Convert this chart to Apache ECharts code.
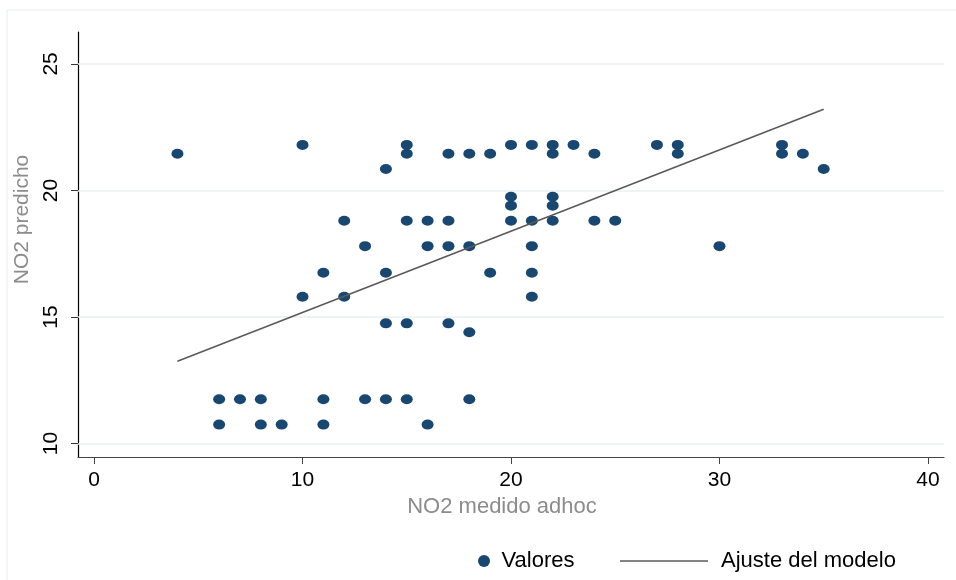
<!DOCTYPE html>
<html>
<head>
<meta charset="utf-8">
<script src="https://cdn.jsdelivr.net/npm/echarts@6/dist/echarts.min.js"></script>
<style>
  html, body { margin: 0; padding: 0; background: #fff; }
  #chart-container { width: 956px; height: 580px; }
</style>
</head>
<body>
<div id="chart-container"></div>
<script>
var dom = document.getElementById("chart-container");
var myChart = echarts.init(dom, null, { renderer: "canvas" });

// observed values (x) and model predictions (y)
var medido = [
  10, 15, 20, 21, 22, 23, 27, 28, 33,
  4, 15, 17, 18, 19, 22, 24, 28, 33, 34,
  14, 35,
  20, 22,
  20, 22,
  12, 15, 16, 17, 20, 21, 22, 24, 25,
  13, 16, 17, 18, 21, 30,
  11, 14, 19, 21,
  10, 12, 21,
  14, 15, 17,
  18,
  6, 7, 8, 11, 13, 14, 15, 18,
  6, 8, 9, 11, 16
];
var predicho = [
  21.8, 21.8, 21.8, 21.8, 21.8, 21.8, 21.8, 21.8, 21.8,
  21.45, 21.45, 21.45, 21.45, 21.45, 21.45, 21.45, 21.45, 21.45, 21.45,
  20.85, 20.85,
  19.75, 19.75,
  19.4, 19.4,
  18.8, 18.8, 18.8, 18.8, 18.8, 18.8, 18.8, 18.8, 18.8,
  17.8, 17.8, 17.8, 17.8, 17.8, 17.8,
  16.75, 16.75, 16.75, 16.75,
  15.8, 15.8, 15.8,
  14.75, 14.75, 14.75,
  14.4,
  11.75, 11.75, 11.75, 11.75, 11.75, 11.75, 11.75, 11.75,
  10.75, 10.75, 10.75, 10.75, 10.75
];

// fitted line end points
var ajusteX = [4, 35];
var ajusteY = [13.25, 23.21];

var xTicks = [0, 10, 20, 30, 40];
var yTicks = [10, 15, 20, 25];

var puntos = medido.map(function (x, i) { return [x, predicho[i]]; });
var linea = ajusteX.map(function (x, i) { return [x, ajusteY[i]]; });

var fontFam = "Liberation Sans, Arial, sans-serif";

var option = {
  animation: false,
  backgroundColor: "#fff",
  graphic: [
    {
      type: "rect",
      shape: { x: 7, y: 10, width: 960, height: 580 },
      style: { fill: "none", stroke: "#e6eef0", lineWidth: 1 },
      silent: true,
    },
  ],
  grid: { left: 78, right: 12, top: 32, bottom: 123 },
  legend: [
    {
      data: ["Valores"],
      left: 473,
      top: 545,
      itemWidth: 13,
      itemHeight: 12,
      textStyle: { fontFamily: fontFam, fontSize: 22, color: "#000", padding: [0, 0, 0, 6] },
    },
    {
      data: [{ name: "Ajuste del modelo", icon: "rect" }],
      left: 615,
      top: 545,
      itemWidth: 88,
      itemHeight: 1.6,
      textStyle: { fontFamily: fontFam, fontSize: 22, color: "#000", padding: [0, 0, 0, 8] },
    },
  ],
  xAxis: {
    type: "value",
    min: -0.77,
    max: 40.77,
    name: "NO2 medido adhoc",
    nameLocation: "middle",
    nameGap: 37,
    nameTextStyle: { fontFamily: fontFam, fontSize: 22, color: "#8c8c8c", padding: [0, 18, 0, 0] },
    axisLine: { show: true, onZero: false, lineStyle: { color: "#444", width: 1.2 } },
    axisTick: { show: true, length: 7, customValues: xTicks, lineStyle: { color: "#444" } },
    axisLabel: { customValues: xTicks, margin: 13, fontFamily: fontFam, fontSize: 21, color: "#000" },
    splitLine: { show: false },
  },
  yAxis: {
    type: "value",
    min: 9.47,
    max: 26.26,
    name: "NO2 predicho",
    nameLocation: "middle",
    nameGap: 45,
    nameTextStyle: { fontFamily: fontFam, fontSize: 21, color: "#8c8c8c", padding: [0, 0, 0, 50] },
    axisLine: { show: true, onZero: false, lineStyle: { color: "#000", width: 1.2 } },
    axisTick: { show: true, length: 7, customValues: yTicks, lineStyle: { color: "#333" } },
    axisLabel: { customValues: yTicks, rotate: 90, margin: 16, fontFamily: fontFam, fontSize: 21, color: "#000" },
    splitLine: { show: false },
  },
  series: [
    {
      name: "Valores",
      type: "scatter",
      data: puntos,
      symbol: "circle",
      symbolSize: [12, 10],
      itemStyle: { color: "#1a476f", opacity: 1 },
      z: 3,
      markLine: {
        silent: true,
        symbol: "none",
        label: { show: false },
        lineStyle: { color: "#e8f0f2", width: 1.5, type: "solid" },
        data: yTicks.map(function (v) { return { yAxis: v }; }),
        z: 1,
      },
    },
    {
      name: "Ajuste del modelo",
      type: "line",
      data: linea,
      symbol: "none",
      lineStyle: { color: "#5a5a5a", width: 1.6 },
      itemStyle: { color: "#5a5a5a" },
      z: 4,
    },
  ],
};

myChart.setOption(option);

window.addEventListener("resize", function () {
  myChart.resize();
});
</script>
</body>
</html>
